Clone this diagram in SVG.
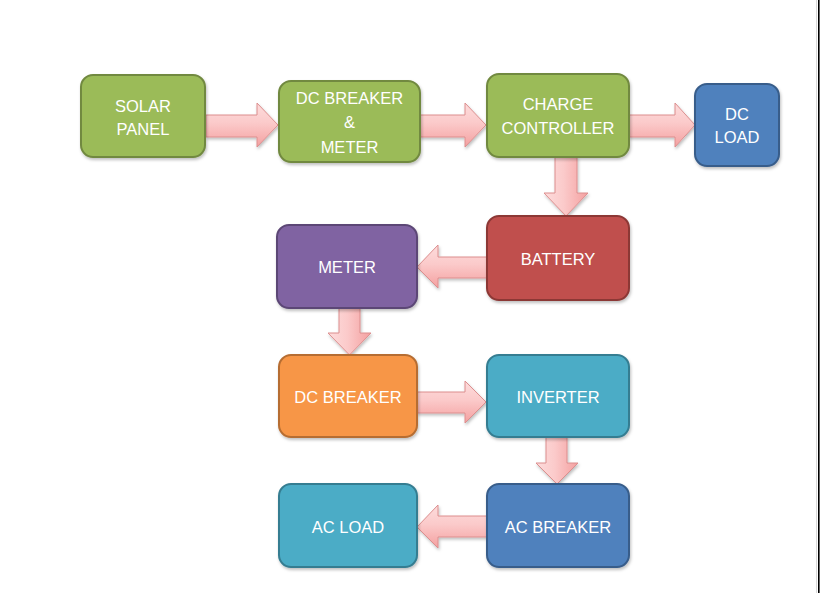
<svg xmlns="http://www.w3.org/2000/svg" width="820" height="593" viewBox="0 0 820 593">
<defs>
<linearGradient id="ah" x1="0" y1="0" x2="0" y2="1"><stop offset="0" stop-color="#fddcdc"/><stop offset="0.45" stop-color="#fbcaca"/><stop offset="1" stop-color="#f4a0a0"/></linearGradient>
<linearGradient id="av" x1="0" y1="0" x2="1" y2="0"><stop offset="0" stop-color="#fddcdc"/><stop offset="0.45" stop-color="#fbcaca"/><stop offset="1" stop-color="#f4a0a0"/></linearGradient>
<filter id="sh" x="-10%" y="-10%" width="130%" height="130%"><feDropShadow dx="1" dy="2" stdDeviation="1.5" flood-color="#000" flood-opacity="0.25"/></filter>
</defs>
<style>
.box{stroke-width:2;filter:url(#sh)}
.g{fill:#9bbb59;stroke:#71893f}
.b{fill:#4f81bd;stroke:#385d8a}
.r{fill:#c0504d;stroke:#8c3836}
.p{fill:#8064a2;stroke:#5c4776}
.o{fill:#f79646;stroke:#b66d31}
.c{fill:#4bacc6;stroke:#357d91}
text{font-family:"Liberation Sans",Arial,sans-serif;font-size:16.5px;fill:#ffffff;text-anchor:middle}
.ah{fill:url(#ah);stroke:#dc8e8e;stroke-width:1;filter:url(#sh)}
.av{fill:url(#av);stroke:#dc8e8e;stroke-width:1;filter:url(#sh)}
</style>
<rect x="0" y="0" width="820" height="593" fill="#ffffff"/>
<line x1="816.5" y1="0" x2="816.5" y2="593" stroke="#d8d8d8" stroke-width="1"/>
<line x1="818.8" y1="0" x2="818.8" y2="593" stroke="#000000" stroke-width="1.6"/>

<g id="connectors">
<path class="ah" d="M206,115 H257 V103 L278,125 L257,147 V137 H206 Z"/>
<path class="ah" d="M420,115 H465 V103 L486,125 L465,147 V137 H420 Z"/>
<path class="ah" d="M629,115 H675 V103 L695,125 L675,147 V137 H629 Z"/>
<path class="av" d="M555,157 V193 H544 L566,216 L588,193 H577 V157 Z"/>
<path class="ah" d="M487,257 H438 V245 L417,267 L438,288 V278 H487 Z"/>
<path class="av" d="M339,308 V333 H328 L349.5,355 L371,333 H360 V308 Z"/>
<path class="ah" d="M417,392 H465 V381 L486,402 L465,423 V413 H417 Z"/>
<path class="av" d="M546,437 V463 H536 L557,484 L578,463 H567 V437 Z"/>
<path class="ah" d="M487,516 H438 V505 L417,527 L438,548 V537 H487 Z"/>
</g>

<g id="solar-panel"><rect class="box g" x="81" y="75" width="124" height="82" rx="12"/><text x="143" y="111.5">SOLAR</text><text x="143" y="135">PANEL</text></g>
<g id="dc-breaker-meter"><rect class="box g" x="279" y="81" width="141" height="81" rx="12"/><text x="349.5" y="104">DC BREAKER</text><text x="349.5" y="128">&amp;</text><text x="349.5" y="152.5">METER</text></g>
<g id="charge-controller"><rect class="box g" x="487" y="74" width="142" height="83" rx="12"/><text x="558" y="110">CHARGE</text><text x="558" y="134">CONTROLLER</text></g>
<g id="dc-load"><rect class="box b" x="695" y="84" width="84" height="82" rx="12"/><text x="737" y="119.5">DC</text><text x="737" y="143">LOAD</text></g>
<g id="battery"><rect class="box r" x="487" y="216" width="142" height="84" rx="12"/><text x="558" y="265">BATTERY</text></g>
<g id="meter"><rect class="box p" x="277" y="225" width="140" height="83" rx="12"/><text x="347" y="272.5">METER</text></g>
<g id="dc-breaker"><rect class="box o" x="279" y="355" width="138" height="82" rx="12"/><text x="348" y="402.5">DC BREAKER</text></g>
<g id="inverter"><rect class="box c" x="487" y="355" width="142" height="82" rx="12"/><text x="558" y="402.5">INVERTER</text></g>
<g id="ac-load"><rect class="box c" x="279" y="484" width="138" height="83" rx="12"/><text x="348" y="532.5">AC LOAD</text></g>
<g id="ac-breaker"><rect class="box b" x="487" y="484" width="142" height="83" rx="12"/><text x="558" y="532.5">AC BREAKER</text></g>
</svg>
